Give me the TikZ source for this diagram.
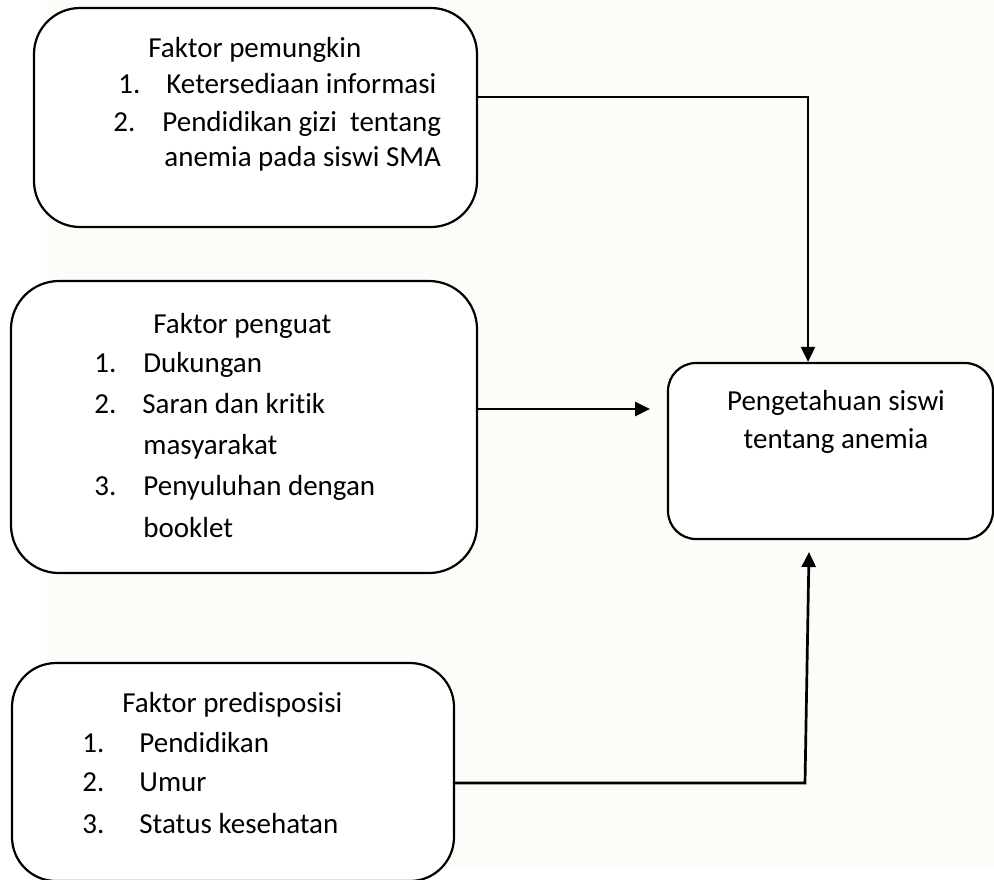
\documentclass[tikz,border=0pt]{standalone}
\usepackage{fontspec}
\setmainfont{Carlito}[Ligatures=NoCommon]
\usetikzlibrary{arrows.meta}
\definecolor{cream}{RGB}{253,252,248}
\tikzset{
  box/.style={draw=black, fill=white, line width=1.1pt, rectangle, inner sep=0pt},
  txt/.style={anchor=base west, inner sep=0pt, font=\fontsize{14.5}{17}\selectfont},
  ctxt/.style={anchor=base, inner sep=0pt, font=\fontsize{14.5}{17}\selectfont},
  conn/.style={line width=1.35pt, -{Triangle[length=7.5pt,width=7pt]}}
}
\begin{document}
\begin{tikzpicture}[x=0.5pt,y=-0.5pt]
\useasboundingbox (0,0) rectangle (994,879);
\fill[white] (0,0) rectangle (994,879);
\fill[cream] (47,0) rectangle (994,870);

% boxes
\node[box, minimum width=221.5pt, minimum height=109.5pt, rounded corners=23pt] (A) at (255.5,117.5) {};
\node[box, minimum width=233pt, minimum height=146pt, rounded corners=24pt] (B) at (244,427) {};
\node[box, minimum width=221pt, minimum height=109pt, rounded corners=22pt] (C) at (233,772) {};
\node[box, minimum width=162.5pt, minimum height=88pt, rounded corners=14pt] (D) at (830.5,451) {};

% box A text
\node[txt] (a0) at (148,57) {Faktor pemungkin};
\node[txt] (a1n) at (118,93) {1.};
\node[txt] (a1) at (166,93) {Ketersediaan informasi};
\node[txt] (a2n) at (113,131) {2.};
\node[txt] (a2) at (162,131) {Pendidikan gizi~ tentang};
\node[txt] (a3) at (164,166) {anemia pada siswi SMA};

% box B text
\node[txt] (b0) at (153,333) {Faktor penguat};
\node[txt] (b1n) at (94,372) {1.};
\node[txt] (b1) at (143,372) {Dukungan};
\node[txt] (b2n) at (94,413) {2.};
\node[txt] (b2) at (142,413) {Saran dan kritik};
\node[txt] (b3) at (143,454) {masyarakat};
\node[txt] (b4n) at (94,495) {3.};
\node[txt] (b4) at (143,495) {Penyuluhan dengan};
\node[txt] (b5) at (143,537) {booklet};

% box C text
\node[txt] (c0) at (122,712) {Faktor predisposisi};
\node[txt] (c1n) at (82,752) {1.};
\node[txt] (c1) at (139,752) {Pendidikan};
\node[txt] (c2n) at (82,791) {2.};
\node[txt] (c2) at (139,791) {Umur};
\node[txt] (c3n) at (82,833) {3.};
\node[txt] (c3) at (139,833) {Status kesehatan};

% box D text
\node[ctxt] (d0) at (836,410) {Pengetahuan siswi};
\node[ctxt] (d1) at (836,448) {tentang anemia};

% connectors
\coordinate (ja) at (808,97);
\draw[conn] (A.east |- ja) -- (ja) -- (ja |- D.north);
\coordinate (tb) at (650,409);
\draw[conn] (B.east |- tb) -- (tb);
\coordinate (jc) at (805,783);
\coordinate (tc) at (809,552);
\draw[conn] (C.east |- jc) -- (jc) -- (tc);
\end{tikzpicture}
\end{document}
